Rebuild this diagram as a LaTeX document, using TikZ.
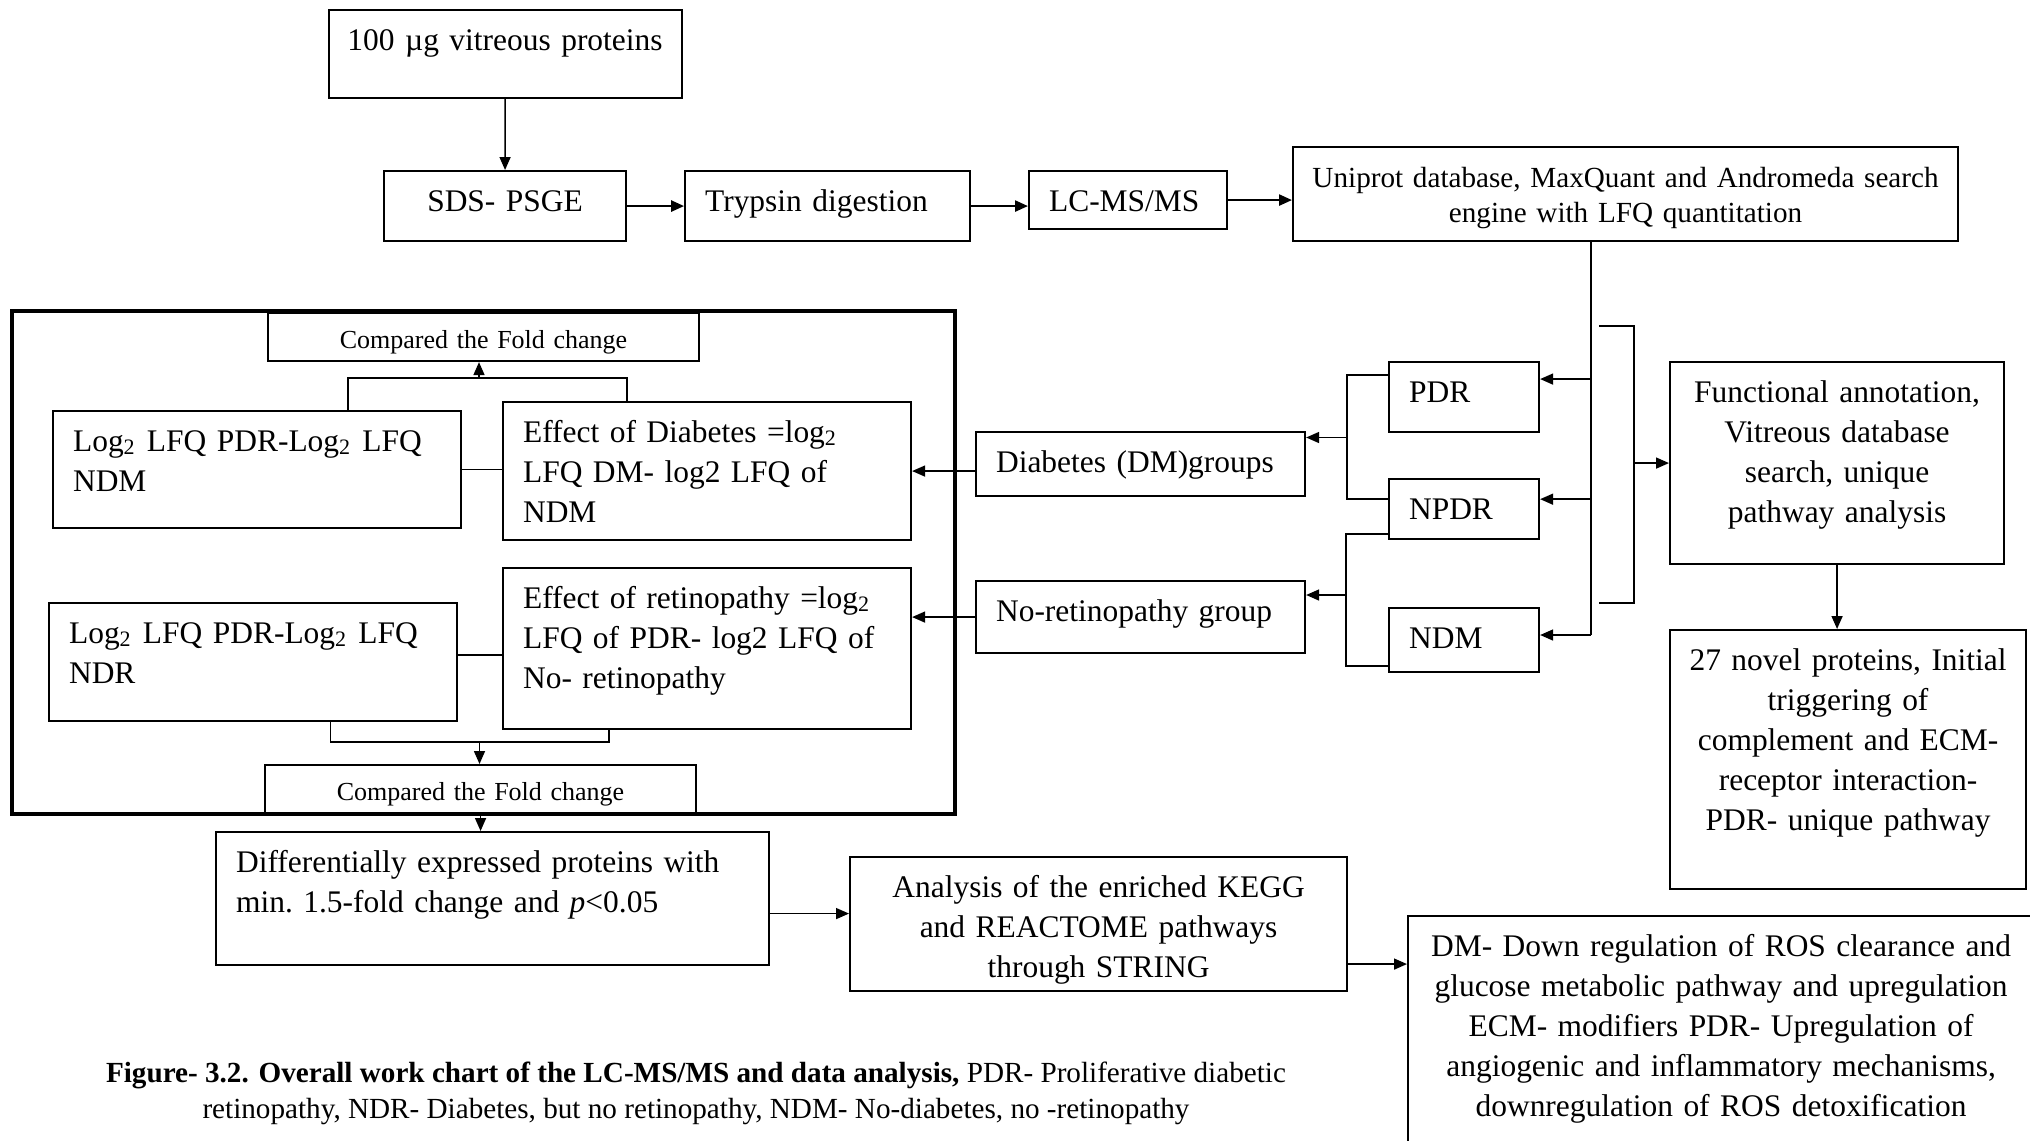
\documentclass[tikz,border=0pt]{standalone}
\usepackage{fontspec}
\setmainfont{Liberation Serif}
\usetikzlibrary{arrows.meta, positioning}
\newcommand{\mainfs}{\fontsize{8.95pt}{11.4pt}\selectfont}
\newcommand{\smallfs}{\fontsize{7.4pt}{9.3pt}\selectfont}
\newcommand{\capfs}{\fontsize{8.3pt}{10.2pt}\selectfont}

\begin{document}
\begin{tikzpicture}[
    box/.style={draw, line width=0.6pt, anchor=north west, align=left, font=\mainfs,
                inner xsep=2mm, inner ysep=1mm, text height=3mm},
    cbox/.style={box, align=center, inner xsep=0.5mm},
    cmp/.style={cbox, font=\smallfs, text height=2.5mm},
    link/.style={line width=0.45pt},
    arr/.style={link, -{Triangle[length=1.3mm, width=1.1mm]}},
    thickarr/.style={arr, line width=0.7pt}
]
\useasboundingbox (0,0) rectangle (20.3,-11.4);
\clip (0,0) rectangle (20.3,-11.4);

% sample preparation and search
\node[cbox, text width=3.43cm, text depth=3.8mm] (vitreous) at (3.275,-0.09) {100 µg vitreous proteins};
\node[cbox, text width=2.32cm, text depth=2mm] (sds) at (3.83,-1.70) {SDS- PSGE};
\node[box, text width=2.45cm, text depth=2mm, right=0.57cm of sds] (trypsin) {Trypsin digestion};
\node[box, text width=1.58cm, text depth=0.8mm] (lcms) at (10.28,-1.70) {LC-MS/MS};
\node[cbox, font=\capfs, text width=6.55cm, text depth=4.4mm] (uniprot) at (12.92,-1.46) {Uniprot database, MaxQuant and Andromeda search\\engine with LFQ quantitation};

% fold change comparison
\draw[line width=0.9pt] (0.12,-3.11) rectangle (9.55,-8.14);
\node[cmp, text width=4.21cm, text depth=0.3mm] (cmpTop) at (2.67,-3.12) {Compared the Fold change};
\node[box, text width=3.68cm, text depth=6.7mm] (logNDM) at (0.52,-4.10) {Log\textsubscript{2} LFQ PDR-Log\textsubscript{2} LFQ\\NDM};
\node[box, text width=3.68cm, text depth=8.8mm] (effDM) at (5.02,-4.01) {Effect of Diabetes =log\textsubscript{2}\\LFQ DM- log2 LFQ of\\NDM};
\node[box, text width=3.68cm, text depth=6.8mm] (logNDR) at (0.48,-6.02) {Log\textsubscript{2} LFQ PDR-Log\textsubscript{2} LFQ\\NDR};
\node[box, text width=3.68cm, text depth=11.1mm] (effRet) at (5.02,-5.67) {Effect of retinopathy =log\textsubscript{2}\\LFQ of PDR- log2 LFQ of\\No- retinopathy};
\node[cmp, text width=4.21cm, text depth=0.5mm] (cmpBot) at (2.64,-7.64) {Compared the Fold change};

% groups
\node[box, text width=2.89cm, text depth=1.4mm] (dmGrp) at (9.75,-4.31) {Diabetes (DM)groups};
\node[box, text width=2.89cm, text depth=2.2mm] (noRet) at (9.75,-5.80) {No-retinopathy group};
\node[box, text width=1.10cm, text depth=2mm] (pdr) at (13.88,-3.61) {PDR};
\node[box, text width=1.10cm, text depth=1mm, below=0.45cm of pdr.south west, anchor=north west] (npdr) {NPDR};
\node[box, text width=1.10cm, text depth=1.4mm, below=0.67cm of npdr.south west, anchor=north west] (ndm) {NDM};
\node[cbox, text width=3.24cm, text depth=15.2mm] (func) at (16.69,-3.61) {Functional annotation,\\Vitreous database\\search, unique\\pathway analysis};
\node[cbox, text width=3.46cm, text depth=20.9mm] (novel) at (16.69,-6.29) {27 novel proteins, Initial\\triggering of\\complement and ECM-\\receptor interaction-\\PDR- unique pathway};

% pathway analysis
\node[box, text width=5.13cm, text depth=8.3mm] (diffExp) at (2.15,-8.31) {Differentially expressed proteins with\\min.\ 1.5-fold change and \textit{p}<0.05};
\node[cbox, text width=4.87cm, text depth=8.4mm] (kegg) at (8.49,-8.56) {Analysis of the enriched KEGG\\and REACTOME pathways\\through STRING};
\node[cbox, text width=6.16cm, text depth=22mm] (dmDown) at (14.07,-9.15) {DM- Down regulation of ROS clearance and\\glucose metabolic pathway and upregulation\\ECM- modifiers PDR- Upregulation of\\angiogenic and inflammatory mechanisms,\\downregulation of ROS detoxification};

\node[align=center, font=\capfs] (caption) at (6.96,-10.93) {\textbf{Figure- 3.2. Overall work chart of the LC-MS/MS and data analysis,} PDR- Proliferative diabetic\\retinopathy, NDR- Diabetes, but no retinopathy, NDM- No-diabetes, no -retinopathy};

\coordinate (trunk) at (15.91,-6.35);
\coordinate (brTop) at (15.99,-3.26);
\coordinate (brBot) at (15.99,-6.03);
\coordinate (jDM) at (13.47,-4.375);
\coordinate (jNR) at (13.46,-5.95);
\coordinate (fkTop) at (4.79,-3.78);
\coordinate (fkBot) at (4.795,-7.42);

\draw[arr] (vitreous) -- (sds);
\draw[thickarr] (sds) -- (trypsin);
\draw[thickarr] (trypsin.east) -- (trypsin.east -| lcms.west);
\draw[thickarr] (lcms.east) -- (lcms.east -| uniprot.west);

\draw[link] (trunk |- uniprot.south) -- (trunk);
\draw[arr] ([yshift=1.8mm]pdr.east -| trunk) -- ([yshift=1.8mm]pdr.east);
\draw[arr] ([yshift=1mm]npdr.east -| trunk) -- ([yshift=1mm]npdr.east);
\draw[arr] (trunk) -- (trunk -| ndm.east);

\draw[link] (brTop) -- ++(0.35,0) |- (brBot);
\draw[arr] ([xshift=-3.5mm]func.west) -- (func.west);
\draw[arr] (func.south) -- (func.south |- novel.north);

\draw[link] ([yshift=2.2mm]pdr.west) -| (jDM) |- ([yshift=1mm]npdr.west);
\draw[arr] (jDM) -- (jDM -| dmGrp.east);
\draw[link] ([yshift=-2.5mm]npdr.west) -| (jNR) |- ([yshift=-2.6mm]ndm.west);
\draw[arr] (jNR) -- (jNR -| noRet.east);

\draw[arr] (effDM.east -| dmGrp.west) -- (effDM.east);
\draw[arr] (noRet.west) -- (noRet.west -| effRet.east);
\draw[link] (logNDM.east) -- (logNDM.east -| effDM.west);
\draw[link] ([yshift=0.7mm]logNDR.east) -- ([yshift=0.7mm]logNDR.east -| effRet.west);

\draw[link] ([xshift=9.1mm]logNDM.north) |- (fkTop) -| ([xshift=-8mm]effDM.north);
\draw[arr] (fkTop) -- (fkTop |- cmpTop.south);
\draw[link] ([xshift=7.75mm]logNDR.south) |- (fkBot) -| ([xshift=-9.8mm]effRet.south);
\draw[arr] (fkBot) -- (fkBot |- cmpBot.north);

\draw[arr] (cmpBot.south) -- (cmpBot.south |- diffExp.north);
\draw[arr] ([yshift=-1.5mm]diffExp.east) -- ([yshift=-1.5mm]diffExp.east -| kegg.west);
\draw[arr] ([yshift=-4mm]kegg.east) -- ([yshift=-4mm]kegg.east -| dmDown.west);
\end{tikzpicture}
\end{document}
